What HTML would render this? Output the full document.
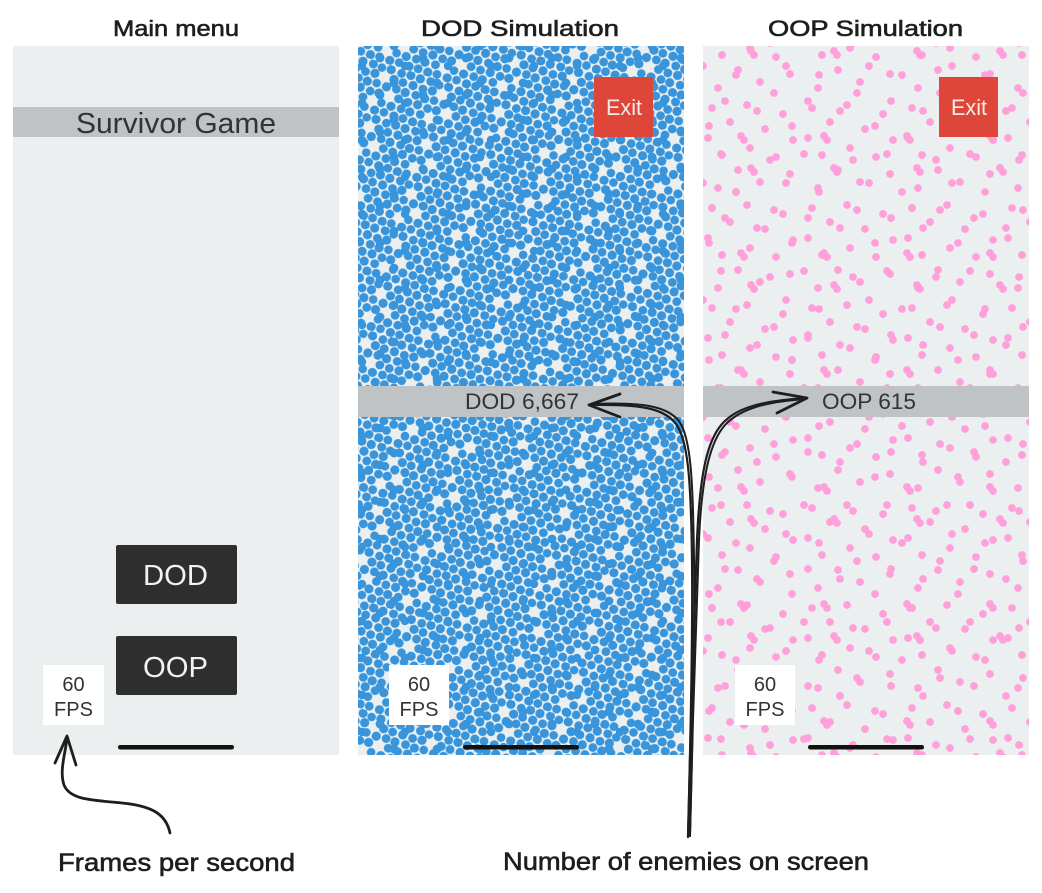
<!DOCTYPE html>
<html><head><meta charset="utf-8"><style>
html,body{margin:0;padding:0;background:#fff;}
svg{display:block;}
text{font-family:"Liberation Sans",sans-serif;}
</style></head><body>
<svg width="1042" height="893" viewBox="0 0 1042 893" xmlns="http://www.w3.org/2000/svg">
<defs>
<pattern id="b1" width="60" height="52" patternUnits="userSpaceOnUse" patternTransform="rotate(17)">
<rect width="60" height="52" fill="#ECEFF0"/>
<g fill="#3895DB">
<circle cx="5" cy="4.5" r="4.6"/><circle cx="15.8" cy="4" r="4.5"/><circle cx="25" cy="5" r="4.3"/><circle cx="34.5" cy="4.2" r="4.6"/><circle cx="45.5" cy="4.8" r="4.4"/><circle cx="55" cy="4" r="4.6"/>
<circle cx="0" cy="13" r="4.6"/><circle cx="10.5" cy="13.5" r="4.4"/><circle cx="20" cy="12.5" r="4.6"/><circle cx="40" cy="12.8" r="4.6"/><circle cx="49.5" cy="13.2" r="4.4"/><circle cx="60" cy="13" r="4.6"/>
<circle cx="5.5" cy="21.5" r="4.4"/><circle cx="15" cy="22.2" r="4.6"/><circle cx="24.5" cy="21.3" r="4.3"/><circle cx="35" cy="22" r="4.6"/><circle cx="45.2" cy="21.4" r="4.4"/><circle cx="54.6" cy="22" r="4.6"/>
<circle cx="0" cy="30.5" r="4.4"/><circle cx="10" cy="30" r="4.6"/><circle cx="20.6" cy="30.8" r="4.4"/><circle cx="29.6" cy="30.2" r="4.6"/><circle cx="50" cy="30" r="4.4"/><circle cx="60" cy="30.5" r="4.4"/>
<circle cx="4.6" cy="39.2" r="4.6"/><circle cx="15.4" cy="38.6" r="4.4"/><circle cx="34.8" cy="38.8" r="4.3"/><circle cx="45" cy="39.3" r="4.6"/><circle cx="55.4" cy="38.8" r="4.4"/>
<circle cx="0" cy="47.5" r="4.4"/><circle cx="10.2" cy="48" r="4.6"/><circle cx="19.6" cy="47.4" r="4.4"/><circle cx="30.4" cy="47.8" r="4.6"/><circle cx="40" cy="47.2" r="4.3"/><circle cx="50.6" cy="47.9" r="4.6"/><circle cx="60" cy="47.5" r="4.4"/>
</g>
</pattern>
<pattern id="b2" width="43" height="37" patternUnits="userSpaceOnUse">
<g fill="#3895DB">
<circle cx="7" cy="9" r="4.4"/><circle cx="36" cy="21" r="4.4"/><circle cx="18" cy="29" r="4.2"/>
</g>
</pattern>
<pattern id="p1" width="100" height="100" patternUnits="userSpaceOnUse">
<g fill="#FFA0DA">
<circle cx="12" cy="8" r="3.9"/><circle cx="47" cy="5" r="3.9"/><circle cx="83" cy="14" r="3.9"/><circle cx="30" cy="22" r="3.9"/><circle cx="65" cy="29" r="3.9"/><circle cx="93" cy="40" r="3.9"/><circle cx="8" cy="38" r="3.9"/><circle cx="50" cy="48" r="3.9"/><circle cx="22" cy="55" r="3.9"/><circle cx="76" cy="57" r="3.9"/><circle cx="38" cy="70" r="3.9"/><circle cx="90" cy="74" r="3.9"/><circle cx="60" cy="82" r="3.9"/><circle cx="18" cy="88" r="3.9"/>
</g>
</pattern>
<pattern id="p2" width="83" height="117" patternUnits="userSpaceOnUse" patternTransform="translate(17,31)">
<g fill="#FFA0DA">
<circle cx="6" cy="12" r="3.9"/><circle cx="40" cy="6" r="3.9"/><circle cx="70" cy="20" r="3.9"/><circle cx="73" cy="24" r="3.9"/><circle cx="22" cy="35" r="3.9"/><circle cx="55" cy="44" r="3.9"/><circle cx="10" cy="62" r="3.9"/><circle cx="44" cy="70" r="3.9"/><circle cx="76" cy="80" r="3.9"/><circle cx="28" cy="95" r="3.9"/><circle cx="60" cy="105" r="3.9"/><circle cx="63" cy="109" r="3.9"/>
</g>
</pattern>
</defs>

<rect width="1042" height="893" fill="#ffffff"/>

<!-- Titles -->
<g fill="#1e1e1e" stroke="#1e1e1e" stroke-width="0.6" font-size="22">
<text x="113" y="36" textLength="126" lengthAdjust="spacingAndGlyphs">Main menu</text>
<text x="421" y="36" textLength="198" lengthAdjust="spacingAndGlyphs">DOD Simulation</text>
<text x="768" y="36" textLength="195" lengthAdjust="spacingAndGlyphs">OOP Simulation</text>
</g>

<!-- Main menu screen -->
<rect x="13" y="46" width="326" height="709" fill="#ECEFF0"/>
<rect x="13" y="107" width="326" height="30" fill="#BFC3C6"/>
<text x="76" y="133" font-size="29" fill="#333" textLength="200" lengthAdjust="spacingAndGlyphs">Survivor Game</text>
<rect x="116" y="545" width="121" height="59" rx="2" fill="#2E2E2E"/>
<text x="143" y="585" font-size="29" fill="#F2F2F2" textLength="65" lengthAdjust="spacingAndGlyphs">DOD</text>
<rect x="116" y="636" width="121" height="59" rx="2" fill="#2E2E2E"/>
<text x="143" y="677" font-size="29" fill="#F2F2F2" textLength="65" lengthAdjust="spacingAndGlyphs">OOP</text>
<rect x="43" y="665" width="61" height="60" fill="#ffffff"/>
<text x="73.5" y="691" font-size="20" fill="#333" text-anchor="middle">60</text>
<text x="73.5" y="716" font-size="20" fill="#333" text-anchor="middle">FPS</text>
<rect x="118" y="745" width="116" height="4.5" rx="2.2" fill="#111"/>

<!-- DOD screen -->
<rect x="358" y="46" width="326" height="709" fill="url(#b1)"/>
<rect x="358" y="46" width="326" height="709" fill="url(#b2)"/>
<rect x="594" y="77" width="59" height="60" fill="#DD4638"/>
<text x="606" y="115" font-size="22" fill="#F5ECEA" textLength="36" lengthAdjust="spacingAndGlyphs">Exit</text>
<rect x="358" y="386" width="326" height="31" fill="#BFC3C6"/>
<text x="465" y="409" font-size="22" fill="#333" textLength="114" lengthAdjust="spacingAndGlyphs">DOD 6,667</text>
<rect x="389" y="665" width="60" height="60" fill="#ffffff"/>
<text x="419" y="691" font-size="20" fill="#333" text-anchor="middle">60</text>
<text x="419" y="716" font-size="20" fill="#333" text-anchor="middle">FPS</text>
<rect x="463" y="745" width="116" height="4.5" rx="2.2" fill="#111"/>

<!-- OOP screen -->
<rect x="703" y="46" width="326" height="709" fill="#ECEFF0"/>
<rect x="703" y="46" width="326" height="709" fill="url(#p1)"/>
<rect x="703" y="46" width="326" height="709" fill="url(#p2)"/>
<rect x="939" y="77" width="59" height="60" fill="#DD4638"/>
<text x="951" y="115" font-size="22" fill="#F5ECEA" textLength="36" lengthAdjust="spacingAndGlyphs">Exit</text>
<rect x="703" y="386" width="326" height="31" fill="#BFC3C6"/>
<text x="822" y="409" font-size="22" fill="#333" textLength="94" lengthAdjust="spacingAndGlyphs">OOP 615</text>
<rect x="735" y="665" width="60" height="60" fill="#ffffff"/>
<text x="765" y="691" font-size="20" fill="#333" text-anchor="middle">60</text>
<text x="765" y="716" font-size="20" fill="#333" text-anchor="middle">FPS</text>
<rect x="808" y="745" width="116" height="4.5" rx="2.2" fill="#111"/>

<!-- Arrows -->
<g fill="none" stroke="#1e1e1e" stroke-linecap="round" stroke-linejoin="round">
<path d="M170,833 C166,814 152,806 122,803 C92,800 70,800 64,785 C59,770 66,752 67,737" stroke-width="2.8"/>
<path d="M55,763 L67,736 L76,765" stroke-width="2.8"/>

<path d="M688,837 C690,760 693,640 692,560 C691,480 688,440 676,424 C664,408 640,404 590,405" stroke-width="2.2"/>
<path d="M690,836 C692,760 695,640 694,560 C693,480 691,438 679,421 C667,406 642,402 592,404" stroke-width="2"/>
<path d="M620,394 L589,405 L620,417" stroke-width="2.8"/>

<path d="M688,837 C690,740 694,620 697,540 C700,470 708,440 722,424 C736,408 760,401 807,398" stroke-width="2.2"/>
<path d="M690,836 C692,740 696,620 699,540 C702,472 711,441 725,425 C739,410 762,402 806,399" stroke-width="2"/>
<path d="M773,392 L807,398 L777,413" stroke-width="2.8"/>
</g>

<!-- Bottom labels -->
<g fill="#1e1e1e" stroke="#1e1e1e" stroke-width="0.6" font-size="25">
<text x="58" y="871" textLength="237" lengthAdjust="spacingAndGlyphs">Frames per second</text>
<text x="503" y="870" textLength="366" lengthAdjust="spacingAndGlyphs">Number of enemies on screen</text>
</g>
</svg>
</body></html>
